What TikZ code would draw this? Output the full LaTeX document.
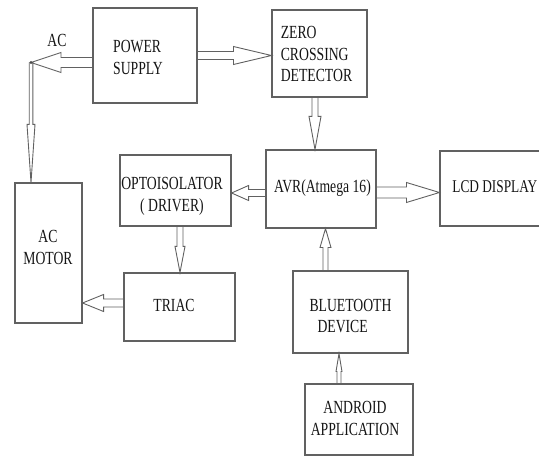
\documentclass[tikz,border=0pt]{standalone}
\usepackage{fontspec}
\setmainfont{Liberation Serif}
\usepackage{graphicx}
\usetikzlibrary{calc}
\newcommand{\bstr}[2][c]{\scalebox{1}[1.35]{\begin{tabular}{@{}#1@{}}#2\end{tabular}}}
\tikzset{
  box/.style={draw=black!62, line width=1.1pt, inner sep=0pt},
  lbl/.style={inner sep=0pt, text=black!92, font=\fontsize{13.7}{16}\selectfont},
  barrow/.style n args={3}{draw=black!62, line width=0.9pt, to path={
    let \p1=(\tikztostart), \p2=(\tikztotarget),
        \n1={veclen(\x2-\x1,\y2-\y1)}, \n2={atan2(\y2-\y1,\x2-\x1)} in
    {[shift={(\p1)}, rotate=\n2]
      (0pt,#1) -- ({\n1*1pt-#3},#1) -- ({\n1*1pt-#3},#2) -- ({\n1*1pt},0pt)
      -- ({\n1*1pt-#3},-#2) -- ({\n1*1pt-#3},-#1) -- (0pt,-#1)}}},
}
\begin{document}
\begin{tikzpicture}[x=1pt,y=-1pt]
\useasboundingbox (0,0) rectangle (539,457);
% boxes
\node[box, minimum width=104pt, minimum height=95pt] (ps) at (145,55.5) {};
\node[box, minimum width=95pt, minimum height=87pt] (zcd) at (319.5,53.5) {};
\node[box, minimum width=110pt, minimum height=78pt] (avr) at (321,189) {};
\node[box, minimum width=112pt, minimum height=75pt] (lcd) at (496,188.5) {};
\node[box, minimum width=111pt, minimum height=71pt] (opto) at (175.5,190.5) {};
\node[box, minimum width=67pt, minimum height=140pt] (motor) at (48.5,253) {};
\node[box, minimum width=111pt, minimum height=68pt] (triac) at (179.5,307) {};
\node[box, minimum width=115pt, minimum height=82pt] (bt) at (350.5,312) {};
\node[box, minimum width=108pt, minimum height=71pt] (android) at (359,419.5) {};
% labels
\node[lbl] (pst) at (138,59) {\bstr[l]{POWER\\SUPPLY}};
\node[lbl] (zcdt) at (316.5,56) {\bstr[l]{ZERO\\CROSSING\\DETECTOR}};
\node[lbl] (avrt) at (322.5,188) {\bstr{AVR(Atmega 16)}};
\node[lbl, anchor=east, font=\fontsize{13.3}{16}\selectfont] (lcdt) at (537.5,188) {\bstr{LCD DISPLAY}};
\node[lbl] (optot) at (172,196) {\bstr{OPTOISOLATOR\\( DRIVER)}};
\node[lbl] (motort) at (48,249) {\bstr{AC\\MOTOR}};
\node[lbl] (triact) at (174,307) {\bstr{TRIAC}};
\node[lbl] (btt) at (350.5,317.5) {\bstr[l]{BLUETOOTH\\\hspace*{8pt}DEVICE}};
\node[lbl] (androidt) at (355,420) {\bstr{ANDROID\\APPLICATION}};
\node[lbl] (act) at (57,42) {\bstr{AC}};
% junction and helper coordinates
\coordinate (acj) at (31,62.5);
\coordinate (z1) at ([xshift=-4.5pt]zcd.south);
\coordinate (a1) at ([yshift=-4pt]avr.west);
\coordinate (a2) at ([yshift=-3.5pt]avr.east);
\coordinate (o1) at ([xshift=4.5pt]opto.south);
\coordinate (t1) at ([yshift=4pt]triac.west);
\coordinate (b1) at ([xshift=-25pt]bt.north);
\coordinate (n1) at ([xshift=-20pt]android.north);
% connectors
\draw[barrow={5pt}{10pt}{30pt}] (ps.west |- acj) to (acj);
\draw[barrow={1.8pt}{4pt}{58pt}] (acj) to (acj |- motor.north);
\fill[black!70] (acj) circle (1.6pt);
\draw[barrow={4pt}{9pt}{38pt}] (ps.east) to (ps.east -| zcd.west);
\draw[barrow={3pt}{6pt}{33pt}] (z1) to (z1 |- avr.north);
\draw[barrow={3.5pt}{7.5pt}{17pt}] (a1) to (a1 -| opto.east);
\draw[barrow={5.5pt}{10pt}{33pt}] (a2) to (a2 -| lcd.west);
\draw[barrow={3pt}{5pt}{26pt}] (o1) to (o1 |- triac.north);
\draw[barrow={4pt}{8.5pt}{21pt}] (t1) to (t1 -| motor.east);
\draw[barrow={2.5pt}{5.5pt}{19pt}] (b1) to (b1 |- avr.south);
\draw[barrow={2pt}{3pt}{18pt}] (n1) to (n1 |- bt.south);
\end{tikzpicture}
\end{document}
